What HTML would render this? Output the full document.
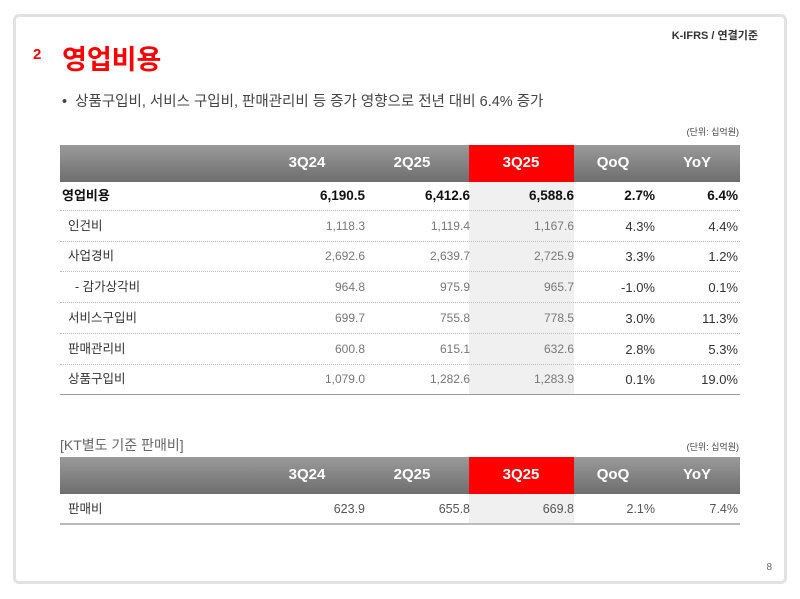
<!DOCTYPE html>
<html><head><meta charset="utf-8"><style>
body{margin:0;width:800px;height:599px;background:#fff;font-family:"Liberation Sans","Noto Sans CJK KR",sans-serif;position:relative;overflow:hidden}
.card{position:absolute;left:13px;top:14px;width:768px;height:564px;border:3px solid #e2e2e2;border-radius:6px}
.a{position:absolute;white-space:nowrap}
.hdr{position:absolute;left:60px;width:680px;height:37px;background:linear-gradient(#9a9a9a,#6e6e6e)}
.red{position:absolute;left:469px;width:105px;background:#f00}
.shade{position:absolute;left:469px;width:105px;background:#f0f0f0}
.h{position:absolute;color:#fff;font-size:15px;font-weight:bold;transform:translateX(-50%)}
.row{position:absolute;left:60px;width:680px;height:31px;font-size:12.5px;color:#555}
.row span{position:absolute;top:0;height:31px;line-height:31px;white-space:nowrap}
.r{text-align:right;width:100px}
.dot{position:absolute;left:60px;width:680px;border-top:1px dotted #bbb}
</style></head><body>
<div class="card"></div>
<div class="a" style="right:42px;top:27px;font-size:11px;font-weight:bold;color:#333">K-IFRS / 연결기준</div>
<div class="a" style="left:33px;top:46px;font-size:15px;font-weight:bold;color:#f00">2</div>
<div class="a" style="left:62px;top:38px;font-size:27px;font-weight:bold;color:#f00">영업비용</div>
<div class="a" style="left:62px;top:90px;font-size:14.5px;color:#444">•&nbsp; 상품구입비, 서비스 구입비, 판매관리비 등 증가 영향으로 전년 대비 6.4% 증가</div>
<div class="a" style="right:61px;top:125px;font-size:9px;color:#444">(단위: 십억원)</div>

<div class="shade" style="top:181px;height:214px"></div>
<div class="hdr" style="top:145px"></div>
<div class="red" style="top:145px;height:37px"></div>
<div class="h" style="left:307px;top:154px">3Q24</div>
<div class="h" style="left:412px;top:154px">2Q25</div>
<div class="h" style="left:521px;top:154px">3Q25</div>
<div class="h" style="left:613px;top:154px">QoQ</div>
<div class="h" style="left:697px;top:154px">YoY</div>

<div id="t1"></div>
<div class="a" style="left:60px;top:394px;width:680px;border-top:1px solid #999"></div>

<div class="a" style="left:60px;top:435px;font-size:14px;color:#666">[KT별도 기준 판매비]</div>
<div class="a" style="right:61px;top:440px;font-size:9px;color:#444">(단위: 십억원)</div>
<div class="shade" style="top:494px;height:30px"></div>
<div class="hdr" style="top:457px"></div>
<div class="red" style="top:457px;height:37px"></div>
<div class="h" style="left:307px;top:466px">3Q24</div>
<div class="h" style="left:412px;top:466px">2Q25</div>
<div class="h" style="left:521px;top:466px">3Q25</div>
<div class="h" style="left:613px;top:466px">QoQ</div>
<div class="h" style="left:697px;top:466px">YoY</div>
<div class="row" style="top:494px"><span style="left:8px;color:#333">판매비</span><span class="r" style="left:205px">623.9</span><span class="r" style="left:310px">655.8</span><span class="r" style="left:414px">669.8</span><span class="r" style="left:495px">2.1%</span><span class="r" style="left:578px">7.4%</span></div>
<div class="a" style="left:60px;top:523px;width:680px;border-top:2px solid #bbb"></div>
<div class="a" style="right:28px;top:562px;font-size:10px;color:#666">8</div>
<script>
var d=[["영업비용","6,190.5","6,412.6","6,588.6","2.7%","6.4%"],["인건비","1,118.3","1,119.4","1,167.6","4.3%","4.4%"],["사업경비","2,692.6","2,639.7","2,725.9","3.3%","1.2%"],["  - 감가상각비","964.8","975.9","965.7","-1.0%","0.1%"],["서비스구입비","699.7","755.8","778.5","3.0%","11.3%"],["판매관리비","600.8","615.1","632.6","2.8%","5.3%"],["상품구입비","1,079.0","1,282.6","1,283.9","0.1%","19.0%"]];
var L=[205,310,414,495,578],h="";
d.forEach(function(r,i){var t=180+i*30.7;
h+='<div class="row" style="top:'+t+'px"><span style="'+(i==0?'left:2px;color:#111;font-weight:bold;font-size:13px':'left:8px;color:#333')+'">'+r[0].replace(/ /g,"&nbsp;")+'</span>';
for(var j=1;j<6;j++){h+='<span class="r" style="left:'+L[j-1]+'px;'+(i==0?'color:#111;font-weight:bold;font-size:13.5px':(j>=4?'color:#333;font-size:13px':'font-size:12px;color:#777'))+'">'+r[j]+'</span>';}
h+='</div>';if(i<6)h+='<div class="dot" style="top:'+(t+30)+'px"></div>';});
document.getElementById("t1").innerHTML=h;
</script>
</body></html>
